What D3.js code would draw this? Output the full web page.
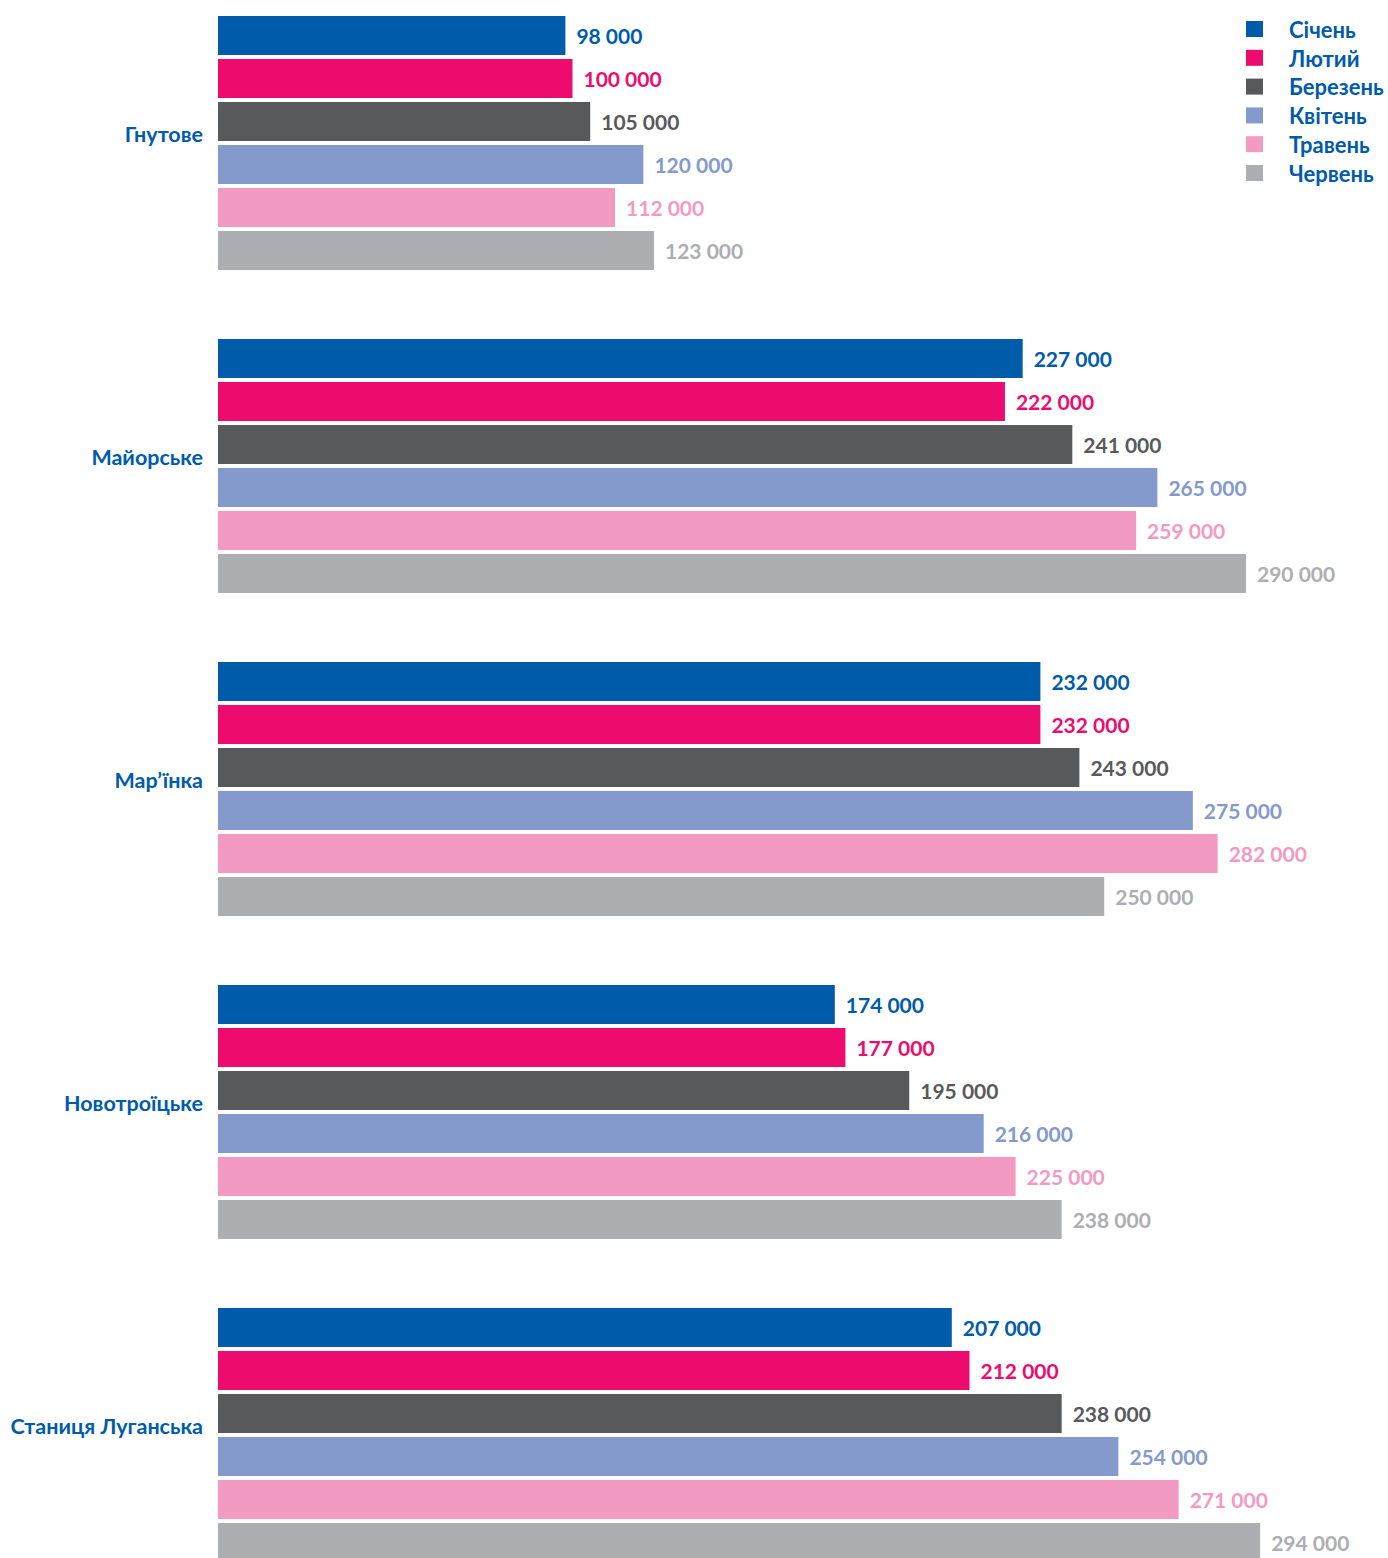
<!DOCTYPE html>
<html>
<head>
<meta charset="utf-8">
<script src="https://cdn.jsdelivr.net/npm/d3@7"></script>
<style>
  body { margin: 0; background: #fff; }
  svg text { font-family: Lato, "Open Sans", sans-serif; font-weight: 700; }
</style>
</head>
<body>
<div id="chart"></div>
<script>
// дані
const towns = ['Гнутове', 'Майорське', 'Мар\u2019їнка', 'Новотроїцьке', 'Станиця Луганська'];
const months = ['Січень', 'Лютий', 'Березень', 'Квітень', 'Травень', 'Червень'];
const colors = ['#005BAA', '#ED0C6E', '#58595B', '#8499CC', '#F39AC2', '#ADAEB1'];

const sichen   = [98000, 227000, 232000, 174000, 207000];
const lyutyi   = [100000, 222000, 232000, 177000, 212000];
const berezen  = [105000, 241000, 243000, 195000, 238000];
const kviten   = [120000, 265000, 275000, 216000, 254000];
const traven   = [112000, 259000, 282000, 225000, 271000];
const cherven  = [123000, 290000, 250000, 238000, 294000];
const series = [sichen, lyutyi, berezen, kviten, traven, cherven];

const width = 1388, height = 1558;
const left = 218;

const svg = d3.select('#chart').append('svg')
  .attr('width', width)
  .attr('height', height);

// шкали
const x = d3.scaleLinear().domain([0, 290000]).range([left, 1246]);
const y0 = d3.scaleBand().domain(towns).range([16, 16 + 323 * 5]);
const y1 = d3.scaleBand().domain(months).range([0, 43 * 6 - 4]).paddingInner(4 / 43).paddingOuter(0);

const fmt = v => d3.format(',')(v).replace(/,/g, ' ');

const groups = svg.selectAll('g.town')
  .data(towns).enter()
  .append('g')
  .attr('class', 'town')
  .attr('transform', d => `translate(0, ${y0(d)})`);

groups.append('text')
  .attr('x', 203)
  .attr('y', 127 - 9)
  .attr('dy', '0.35em')
  .attr('text-anchor', 'end')
  .attr('fill', '#005BAA')
  .style('font-size', '21.5px')
  .text(d => d);

groups.each(function (town, ti) {
  const g = d3.select(this);
  const rows = months.map((m, mi) => ({ month: m, value: series[mi][ti], color: colors[mi] }));

  g.selectAll('rect')
    .data(rows).enter()
    .append('rect')
    .attr('x', x(0))
    .attr('y', d => y1(d.month))
    .attr('width', d => x(d.value) - x(0))
    .attr('height', y1.bandwidth())
    .attr('fill', d => d.color);

  g.selectAll('text.val')
    .data(rows).enter()
    .append('text')
    .attr('class', 'val')
    .attr('x', d => x(d.value) + 11)
    .attr('y', d => y1(d.month) + y1.bandwidth() / 2 + 1)
    .attr('dy', '0.35em')
    .attr('fill', d => d.color)
    .style('font-size', '21px')
    .text(d => fmt(d.value));
});

// легенда
const legend = svg.append('g').attr('transform', 'translate(1246, 21)');
const item = legend.selectAll('g')
  .data(months).enter()
  .append('g')
  .attr('transform', (d, i) => `translate(0, ${i * 28.8})`);

item.append('rect')
  .attr('width', 17)
  .attr('height', 16)
  .attr('fill', (d, i) => colors[i]);

item.append('text')
  .attr('x', 43)
  .attr('y', 9)
  .attr('dy', '0.35em')
  .attr('fill', '#005BAA')
  .style('font-size', '22px')
  .text(d => d);
</script>
</body>
</html>
